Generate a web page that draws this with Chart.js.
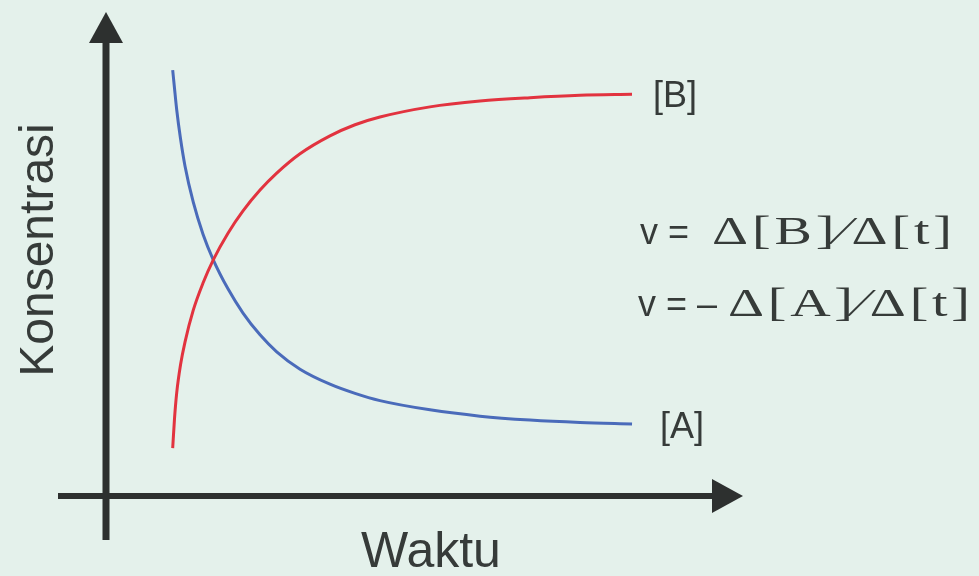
<!DOCTYPE html>
<html lang="id">
<head>
<meta charset="utf-8">
<title>Konsentrasi vs Waktu</title>
<script src="https://cdn.jsdelivr.net/npm/chart.js@4.4.1/dist/chart.umd.min.js"></script>
<style>
    html, body { margin: 0; padding: 0; background: #e4f1eb; }
    #wrap { width: 979px; height: 576px; position: relative; }
</style>
</head>
<body>
<div id="wrap"><canvas id="reaksiChart"></canvas></div>
<script>
// Data (unités arbitraires, 0..100 sur chaque axe)
const waktu = [10.47, 10.75, 11.10, 11.70, 12.40, 13.70, 15.23, 16.84, 19.15, 21.51, 24.18,
               26.80, 30.46, 35.16, 39.09, 43.01, 50.86, 58.71, 66.56, 74.41, 82.58];
const konsA = [88.0, 84.3, 79.8, 73.8, 68.2, 60.7, 54.1, 48.8, 42.8, 37.8, 33.3,
               29.8, 26.2, 23.1, 21.2, 19.7, 17.8, 16.5, 15.7, 15.2, 14.9];
const konsB = [9.9, 15.9, 21.3, 27.1, 31.8, 38.4, 44.0, 48.8, 54.3, 58.9, 63.2,
               66.7, 70.7, 74.4, 76.7, 78.3, 80.4, 81.6, 82.3, 82.8, 83.0];

const labelA = '[A]';
const labelB = '[B]';
const judulX = 'Waktu';
const judulY = 'Konsentrasi';

const warnaSumbu = '#2d302f';
const warnaTeks = '#363b39';

function titik(xs, ys) {
    return xs.map(function(x, i) { return { x: x, y: ys[i] }; });
}

// Axes fléchées + textes
const decorPlugin = {
    id: 'decor',
    afterDatasetsDraw(chart) {
        const ctx = chart.ctx;
        const sx = chart.scales.x;
        const sy = chart.scales.y;
        const x0 = sx.getPixelForValue(0);
        const y0 = sy.getPixelForValue(0);
        const yTop = sy.getPixelForValue(100);
        const xEnd = sx.getPixelForValue(100);

        ctx.save();
        ctx.fillStyle = warnaSumbu;
        ctx.strokeStyle = warnaSumbu;

        // sumbu Y
        ctx.lineWidth = 7;
        ctx.beginPath();
        ctx.moveTo(x0, y0 + 44);
        ctx.lineTo(x0, yTop + 25);
        ctx.stroke();
        ctx.beginPath();
        ctx.moveTo(x0, yTop);
        ctx.lineTo(x0 - 17, yTop + 31);
        ctx.lineTo(x0 + 17, yTop + 31);
        ctx.closePath();
        ctx.fill();

        // sumbu X
        ctx.lineWidth = 6;
        ctx.beginPath();
        ctx.moveTo(x0 - 48, y0);
        ctx.lineTo(xEnd - 25, y0);
        ctx.stroke();
        ctx.beginPath();
        ctx.moveTo(xEnd, y0);
        ctx.lineTo(xEnd - 31, y0 - 17);
        ctx.lineTo(xEnd - 31, y0 + 17);
        ctx.closePath();
        ctx.fill();

        // judul sumbu
        ctx.fillStyle = warnaTeks;
        ctx.textBaseline = 'alphabetic';
        ctx.textAlign = 'center';
        ctx.font = '50px "Liberation Sans", Arial, sans-serif';
        ctx.fillText(judulX, 431, 567);

        ctx.save();
        ctx.translate(53, 250);
        ctx.rotate(-Math.PI / 2);
        ctx.font = '48px "Liberation Sans", Arial, sans-serif';
        ctx.fillText(judulY, 0, 0);
        ctx.restore();

        // label kurva
        ctx.textAlign = 'left';
        ctx.textBaseline = 'middle';
        ctx.font = '36px "Liberation Sans", Arial, sans-serif';
        const lastB = konsB[konsB.length - 1];
        const lastA = konsA[konsA.length - 1];
        const xl = sx.getPixelForValue(waktu[waktu.length - 1]);
        ctx.fillText(labelB, xl + 21, sy.getPixelForValue(lastB) + 3);
        ctx.fillText(labelA, xl + 28, sy.getPixelForValue(lastA) + 4);

        // persamaan laju
        const lebar = 1.4;
        function persamaan(awal, rumus, x, xR, xEndR, base) {
            ctx.textBaseline = 'alphabetic';
            ctx.font = '36px "Liberation Sans", Arial, sans-serif';
            ctx.fillText(awal, x, base);
            ctx.font = '40px "Liberation Serif", "Times New Roman", serif';
            ctx.letterSpacing = '0px';
            const w = ctx.measureText(rumus).width;
            const n = Array.from(rumus).length;
            const sp = Math.max(0, (xEndR - xR - w * lebar) / (n - 1));
            ctx.save();
            ctx.translate(xR, base);
            ctx.scale(lebar, 1);
            ctx.letterSpacing = (sp / lebar).toFixed(2) + 'px';
            ctx.fillText(rumus, 0, 0);
            ctx.restore();
            ctx.letterSpacing = '0px';
        }
        persamaan('v =', 'Δ[B]⁄Δ[t]', 640, 712, 952, 244);
        persamaan('v = –', 'Δ[A]⁄Δ[t]', 638, 728, 970, 316);

        ctx.restore();
    }
};

document.addEventListener('DOMContentLoaded', function() {
    const el = document.getElementById('reaksiChart');
    new Chart(el.getContext('2d'), {
        type: 'scatter',
        data: {
            datasets: [
                {
                    label: labelB,
                    data: titik(waktu, konsB),
                    showLine: true,
                    borderColor: '#e2333f',
                    borderWidth: 3,
                    pointRadius: 0,
                    cubicInterpolationMode: 'monotone'
                },
                {
                    label: labelA,
                    data: titik(waktu, konsA),
                    showLine: true,
                    borderColor: '#4a6bba',
                    borderWidth: 3,
                    pointRadius: 0,
                    cubicInterpolationMode: 'monotone'
                }
            ]
        },
        options: {
            responsive: true,
            maintainAspectRatio: false,
            animation: false,
            layout: {
                padding: { left: 106, right: 236, top: 12, bottom: 80 }
            },
            plugins: {
                legend: { display: false },
                tooltip: { enabled: false }
            },
            scales: {
                x: { type: 'linear', min: 0, max: 100, display: false },
                y: { type: 'linear', min: 0, max: 100, display: false }
            }
        },
        plugins: [decorPlugin]
    });
});
</script>
</body>
</html>
